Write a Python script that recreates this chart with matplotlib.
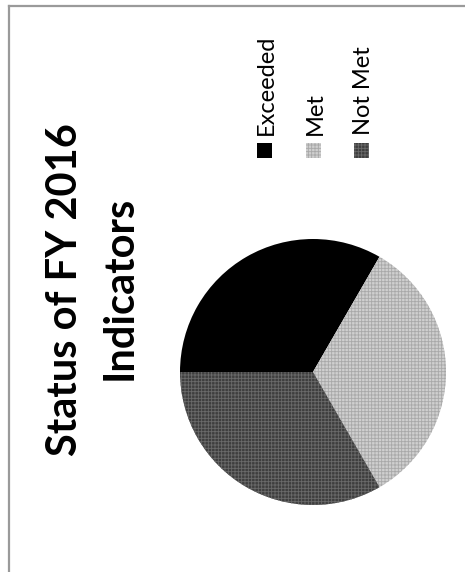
import matplotlib
matplotlib.use("Agg")
import matplotlib.pyplot as plt
from matplotlib.patches import Rectangle
from matplotlib.lines import Line2D

# --- данные ---
labels = ["Exceeded", "Met", "Not Met"]
values = [1, 1, 1]
title_lines = ["Status of FY 2016", "Indicators"]

# --- стиль ---
face_colors = ["#000000", "#cfcfcf", "#3e3e3e"]
hatch_colors = ["#000000", "#a8a8a8", "#6a6a6a"]
hatches = [None, "+++++", "+++++"]
FONT = "Lato"

W, H = 465, 572
DPI = 100
plt.rcParams["hatch.linewidth"] = 0.6

fig = plt.figure(figsize=(W / DPI, H / DPI), dpi=DPI)
fig.patch.set_facecolor("white")

def fx(px):
    return px / W

def fy(py):
    return 1 - py / H

# рамка (видны только левая и верхняя стороны)
fig.add_artist(Line2D([fx(9), fx(9)], [fy(6), 0], color="#9a9a9a", lw=1.6))
fig.add_artist(Line2D([fx(9), 1], [fy(6), fy(6)], color="#9a9a9a", lw=1.6))

# --- круговая диаграмма ---
cx, cy, r = 313, 372, 133
ax = fig.add_axes([fx(cx - r), fy(cy + r), 2 * r / W, 2 * r / H])
wedges, _ = ax.pie(values, startangle=180, counterclock=False, radius=1,
                   wedgeprops=dict(linewidth=0))
for w, fc, hc, h in zip(wedges, face_colors, hatch_colors, hatches):
    w.set_facecolor(fc)
    w.set_edgecolor(hc)
    w.set_linewidth(0)
    if h:
        w.set_hatch(h)
ax.set_xlim(-1, 1)
ax.set_ylim(-1, 1)
ax.set_aspect("equal")
ax.axis("off")

# --- заголовок (повёрнут на 90°) ---
fig.text(fx(77), fy(290), title_lines[0], rotation=90, rotation_mode="anchor",
         ha="center", va="baseline", fontsize=30, fontweight="bold", family=FONT)
fig.text(fx(132), fy(288), title_lines[1], rotation=90, rotation_mode="anchor",
         ha="center", va="baseline", fontsize=30, fontweight="bold", family=FONT)

# --- легенда (повёрнута на 90°) ---
legend_x = [273, 322, 370]
for lab, fc, hc, h, bx in zip(labels, face_colors, hatch_colors, hatches, legend_x):
    sq = Rectangle((fx(bx - 16), fy(158)), 15 / W, 15 / H, transform=fig.transFigure,
                   facecolor=fc, edgecolor=hc, linewidth=0, hatch=h)
    fig.add_artist(sq)
    fig.text(fx(bx), fy(135), lab, rotation=90, rotation_mode="anchor",
             ha="left", va="baseline", fontsize=17, family=FONT)

plt.savefig("out.png", dpi=DPI)
plt.close()
